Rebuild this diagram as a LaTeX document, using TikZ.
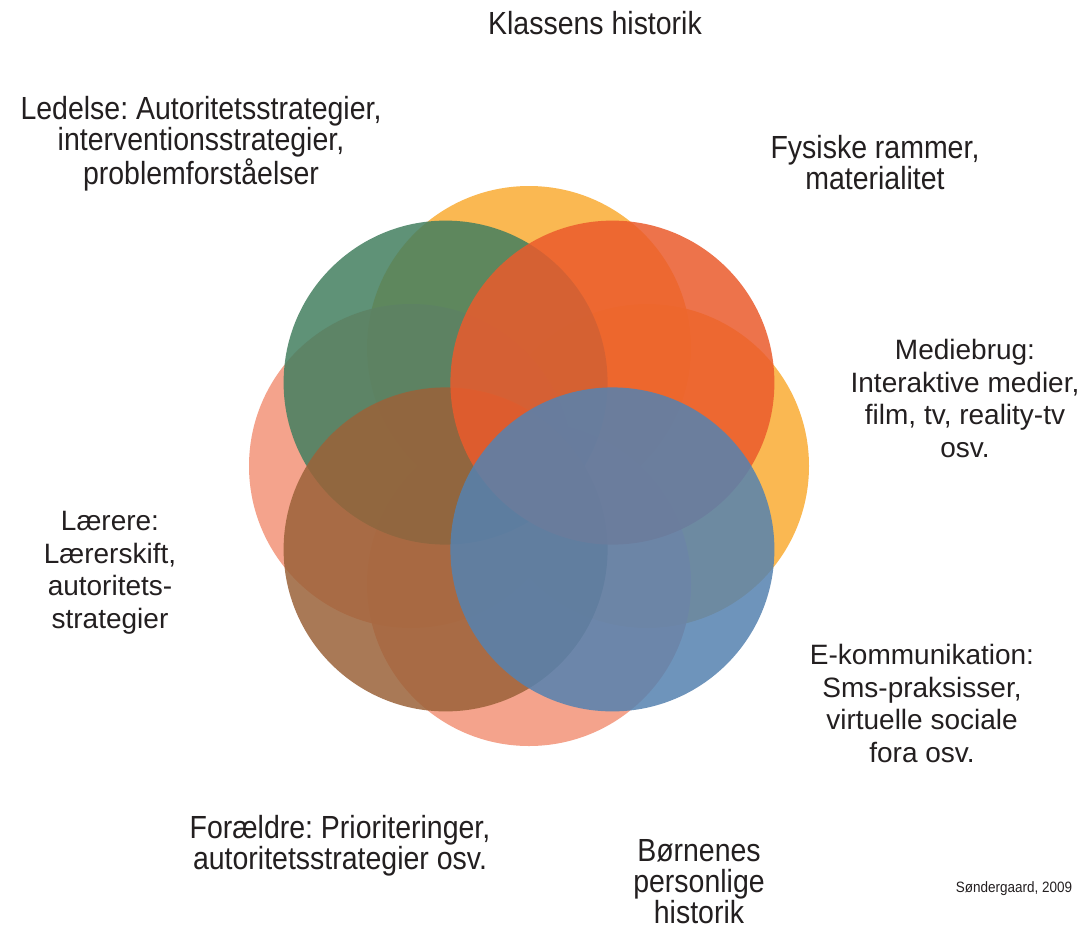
\documentclass[tikz,border=0pt]{standalone}
\usepackage{fontspec}
\setmainfont{Liberation Sans}
\newfontfamily\condf[FakeStretch=0.89]{Liberation Sans}
\newfontfamily\tinyf[FakeStretch=0.9]{Liberation Sans}
\definecolor{cyellow}{HTML}{FAAC34}
\definecolor{csalmon}{HTML}{F39378}
\definecolor{cgreen}{HTML}{437F60}
\definecolor{cred}{HTML}{EB5B2C}
\definecolor{cblue}{HTML}{5582B0}
\definecolor{cbrown}{HTML}{9B6239}
\definecolor{ctext}{HTML}{231F20}
\tikzset{
  petal/.style={circle, draw=none, inner sep=0pt, minimum size=243pt, fill opacity=0.85},
  condlabel/.style={anchor=north, inner sep=0pt, align=center, text=ctext,
    font={\frenchspacing\condf\fontsize{24}{23.25}\selectfont}},
  widelabel/.style={anchor=north, inner sep=0pt, align=center, text=ctext,
    font={\frenchspacing\fontsize{21}{24.4}\selectfont}},
  credit/.style={anchor=base, inner sep=0pt, text=ctext,
    font={\frenchspacing\tinyf\fontsize{11.25}{12}\selectfont}}
}
\begin{document}
\begin{tikzpicture}[x=0.75pt, y=-0.75pt]
\useasboundingbox[fill=white] (0,0) rectangle (1089,929);
% circles
\node[petal, fill=cyellow] (klasse) at (529,348) {};
\node[petal, fill=cyellow] (medie) at (647,466) {};
\node[petal, fill=csalmon] (laerer) at (411,466) {};
\node[petal, fill=csalmon] (born) at (529,584) {};
\node[petal, fill=cgreen] (ledelse) at (445.6,382.6) {};
\node[petal, fill=cbrown] (foraeldre) at (445.6,549.4) {};
\node[petal, fill=cred] (fysisk) at (612.4,382.6) {};
\node[petal, fill=cblue] (ekomm) at (612.4,549.4) {};
% labels
\node[condlabel] (tklasse) at (595,11) {Klassens historik};
\node[condlabel] (tledelse) at (201,96) {Ledelse: Autoritetsstrategier,\\interventionsstrategier,\\problemforståelser};
\node[condlabel] (tfysisk) at (875,135) {Fysiske rammer,\\materialitet};
\node[widelabel] (tmedie) at (965,339) {Mediebrug:\\Interaktive medier,\\film, tv, reality-tv\\osv.};
\node[widelabel] (tekomm) at (922,644) {E-kommunikation:\\Sms-praksisser,\\virtuelle sociale\\fora osv.};
\node[widelabel] (tlaerer) at (110,511) {Lærere:\\Lærerskift,\\autoritets-\\strategier};
\node[condlabel] (tforaeldre) at (340,815) {Forældre: Prioriteringer,\\autoritetsstrategier osv.};
\node[condlabel] (tborn) at (699,839) {Børnenes\\personlige\\historik};
\node[credit] (tcredit) at (1014,892) {Søndergaard, 2009};
\end{tikzpicture}
\end{document}
